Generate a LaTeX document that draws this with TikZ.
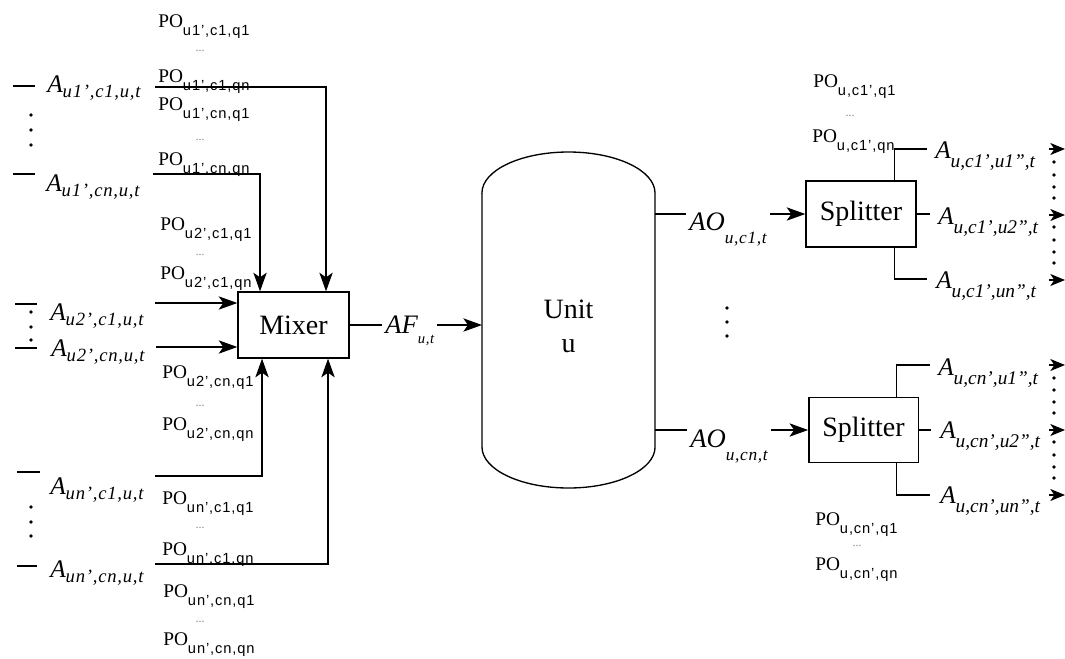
\documentclass[tikz,border=0pt]{standalone}
\usepackage{fontspec}
\setmainfont{Liberation Serif}
\setsansfont{Liberation Sans}
\usetikzlibrary{arrows.meta}
\newcommand{\POx}[1]{{\fontsize{14.5}{14.5}\selectfont PO}\raisebox{-6pt}{\sffamily\fontsize{11}{11}\selectfont\addfontfeatures{LetterSpace=6} #1}}
\newcommand{\Lab}[5]{{\fontsize{#2}{#2}\selectfont\itshape #1}\raisebox{-#5}{\fontsize{#4}{#4}\selectfont\itshape\addfontfeatures{LetterSpace=4} #3}}
\newcommand{\Labn}[5]{{\fontsize{#2}{#2}\selectfont\itshape #1}\raisebox{-#5}{\fontsize{#4}{#4}\selectfont\itshape #3}}
\tikzset{
  arr/.style={-{Stealth[length=14pt,width=10pt,inset=3.5pt]}},
  sarr/.style={-{Stealth[length=11pt,width=9pt,inset=3pt]}},
  box/.style={draw, line width=1pt, minimum width=83.25pt, minimum height=49.5pt, font=\fontsize{21}{21}\selectfont, inner sep=0pt},
  lbl/.style={anchor=base west, inner xsep=2pt, inner ysep=0pt},
  dotsm/.style={font=\fontsize{9}{9}\selectfont, text=black!50, inner sep=0pt},
  sdot/.style={fill, circle, inner sep=0pt, minimum size=2.8pt}
}
\begin{document}
\begin{tikzpicture}[x=0.75pt, y=-0.75pt, line width=0.9pt]
\useasboundingbox (0,0) rectangle (1065,658);

% ---------- Mixer ----------
\node[box] (mixer) at (293.5,325) {Mixer};

% left A labels
\node[lbl] (a1) at (44,92)  {\Lab{A}{19}{u1',c1,u,t}{14}{4pt}};
\node[lbl] (a2) at (43,191) {\Lab{A}{19}{u1',cn,u,t}{14}{4pt}};
\node[lbl] (a3) at (47,320) {\Lab{A}{19}{u2',c1,u,t}{14}{4pt}};
\node[lbl] (a4) at (48,356) {\Lab{A}{19}{u2',cn,u,t}{14}{4pt}};
\node[lbl] (a5) at (47,494) {\Lab{A}{19}{un',c1,u,t}{14}{4pt}};
\node[lbl] (a6) at (47,577) {\Lab{A}{19}{un',cn,u,t}{14}{4pt}};
\draw (13,86) -- (35,86);
\draw (13,174) -- (35,174);
\draw (15,304) -- (37,304);
\draw (15,348) -- (37,348);
\draw (17,472) -- (40,472);
\draw (17,566) -- (37,566);
\foreach \y in {115,130,145,312,327,340,507,522,536}
  \node[sdot] at (31,\y) {};

% left PO labels
\node[lbl] (p1)  at (155,27)  {\POx{u1',c1,q1}};
\node[dotsm] (pd1) at (200,51) {...};
\node[lbl] (p2)  at (155,82)  {\POx{u1',c1,qn}};
\node[lbl] (p3)  at (155,110) {\POx{u1',cn,q1}};
\node[dotsm] (pd2) at (200,140) {...};
\node[lbl] (p4)  at (155,165) {\POx{u1',cn,qn}};
\node[lbl] (p5)  at (157,230) {\POx{u2',c1,q1}};
\node[dotsm] (pd3) at (200,255) {...};
\node[lbl] (p6)  at (157,279) {\POx{u2',c1,qn}};
\node[lbl] (p7)  at (159,378) {\POx{u2',cn,q1}};
\node[dotsm] (pd4) at (200,406) {...};
\node[lbl] (p8)  at (159,430) {\POx{u2',cn,qn}};
\node[lbl] (p9)  at (159,504) {\POx{un',c1,q1}};
\node[dotsm] (pd5) at (200,528) {...};
\node[lbl] (p10) at (159,555) {\POx{un',c1,qn}};
\node[lbl] (p11) at (160,597) {\POx{un',cn,q1}};
\node[dotsm] (pd6) at (200,622) {...};
\node[lbl] (p12) at (160,645) {\POx{un',cn,qn}};

% inputs to mixer
\coordinate (in1) at (155,87);
\coordinate (in2) at (153,174);
\coordinate (in3) at (155,303);
\coordinate (in4) at (156,347);
\coordinate (in5) at (155,476);
\coordinate (in6) at (155,564);
\draw[arr] (in1) -| ([xshift=24.4pt]mixer.north);
\draw[arr] (in2) -| ([xshift=-25.1pt]mixer.north);
\draw[arr] (in3) -- (in3 -| mixer.west);
\draw[arr] (in4) -- (in4 -| mixer.west);
\draw[arr] (in5) -| ([xshift=-23.6pt]mixer.south);
\draw[arr] (in6) -| ([xshift=25.9pt]mixer.south);

% ---------- Unit ----------
\draw[line width=1pt] (482,193) -- (482,447)
  arc[start angle=180, end angle=360, x radius=64.9pt, y radius=30.75pt]
  -- (655,193)
  arc[start angle=0, end angle=180, x radius=64.9pt, y radius=30.75pt] -- cycle;
\node[font=\fontsize{21}{25.5}\selectfont, align=center] (unit) at (568.5,326) {Unit\\u};
\coordinate (uin) at (482,325);
\coordinate (uo1) at (655,214);
\coordinate (uo2) at (655,430);

% AF
\node[lbl] (AF) at (382,333) {\Lab{AF}{20}{u,t}{11}{7.5pt}};
\draw (mixer.east) -- (mixer.east -| AF.west);
\draw[arr] (AF.east |- mixer.east) -- (uin);

% middle dots
\foreach \y in {308,322,336}
  \node[sdot] at (727,\y) {};

% ---------- Splitters ----------
\node[box, minimum width=82.5pt] (S1) at (861,214) {Splitter};
\node[box, minimum width=82pt, minimum height=48.75pt] (S2) at (863.5,430) {Splitter};

\node[lbl] (AO1) at (686,230) {\Lab{AO}{20}{u,c1,t}{13}{10pt}};
\node[lbl] (AO2) at (687,447) {\Lab{AO}{20}{u,cn,t}{13}{10pt}};
\draw (uo1) -- (uo1 -| AO1.west);
\draw[arr] (AO1.east |- uo1) -- (uo1 -| S1.west);
\draw (uo2) -- (uo2 -| AO2.west);
\draw[arr] (AO2.east |- uo2) -- (uo2 -| S2.west);

% right PO labels
\node[lbl] (q1) at (810,87)  {\POx{u,c1',q1}};
\node[dotsm] (qd1) at (850,116) {...};
\node[lbl] (q2) at (809,142) {\POx{u,c1',qn}};
\node[lbl] (q3) at (812,525) {\POx{u,cn',q1}};
\node[dotsm] (qd2) at (857,546) {...};
\node[lbl] (q4) at (812,570) {\POx{u,cn',qn}};

% splitter outputs
\coordinate (t11) at (927,149);
\coordinate (t12) at (930,214);
\coordinate (t13) at (927,279);
\coordinate (t21) at (930,365);
\coordinate (t22) at (931,430);
\coordinate (t23) at (930,495);
\draw ([xshift=-16.5pt]S1.north east) |- (t11);
\draw (S1.east) -- (t12);
\draw ([xshift=-16.5pt]S1.south east) |- (t13);
\draw ([xshift=-16.5pt]S2.north east) |- (t21);
\draw (S2.east) -- (t22);
\draw ([xshift=-16.5pt]S2.south east) |- (t23);

\node[lbl] (r11) at (932,158) {\Labn{A}{19}{u,c1',u1'',t}{14.5}{7pt}};
\node[lbl] (r12) at (935,224) {\Labn{A}{19}{u,c1',u2'',t}{14.5}{7pt}};
\node[lbl] (r13) at (933,288) {\Labn{A}{19}{u,c1',un'',t}{14.5}{7pt}};
\node[lbl] (r21) at (935,375) {\Labn{A}{19}{u,cn',u1'',t}{14.5}{7pt}};
\node[lbl] (r22) at (937,438) {\Labn{A}{19}{u,cn',u2'',t}{14.5}{7pt}};
\node[lbl] (r23) at (937,503) {\Labn{A}{19}{u,cn',un'',t}{14.5}{7pt}};

% right-edge arrows
\foreach \n/\y in {1/149,2/215,3/280,4/365,5/430,6/495}{
  \coordinate (es\n) at (1049,\y);
  \coordinate (ee\n) at (1065,\y);
  \draw[sarr] (es\n) -- (ee\n);
}
\foreach \y in {162,175,187,198,227,240,252,263,378,390,402,413,442,455,467,478}
  \node[sdot] at (1054,\y) {};
\end{tikzpicture}
\end{document}
